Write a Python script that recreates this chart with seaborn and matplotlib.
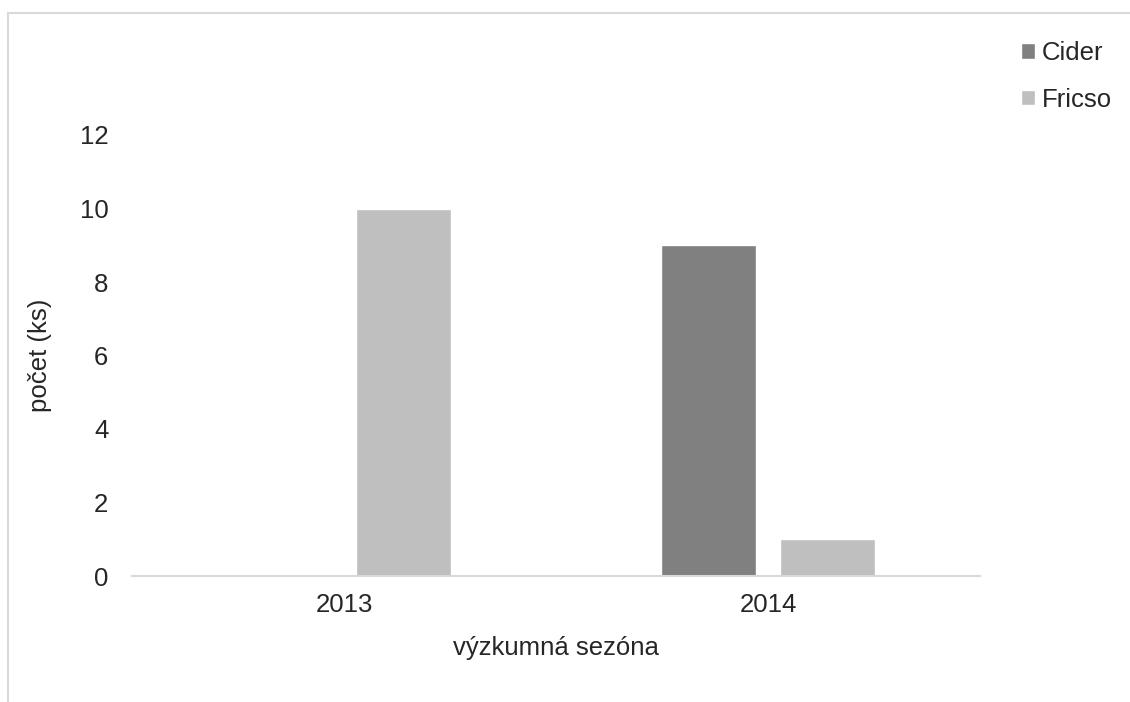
import seaborn as sns
import matplotlib.pyplot as plt
import pandas as pd
from matplotlib.patches import Rectangle

# data
years = ['2013', '2014']
cider = [0, 9]
fricso = [10, 1]
varieties = ['Cider', 'Fricso']
colors = ['#808080', '#bfbfbf']

df = pd.DataFrame({
    'year': years * 2,
    'variety': ['Cider'] * len(years) + ['Fricso'] * len(years),
    'count': cider + fricso,
})

sns.set_style('white')
plt.rcParams['font.family'] = ['Liberation Sans', 'DejaVu Sans']
fs = 18.5

fig = plt.figure(figsize=(11.3, 7.02), dpi=100)
ax = fig.add_axes([132 / 1130, 1 - 576 / 702, (980 - 132) / 1130, (576 - 135) / 702])

sns.barplot(data=df, x='year', y='count', hue='variety', hue_order=varieties,
            palette=colors, width=0.56, gap=0.2, saturation=1, ax=ax)

ax.set_ylim(0, 12)
ax.set_xlim(-0.5, 1.5)
ax.set_yticks(range(0, 13, 2))
ax.set_xlabel('výzkumná sezóna', fontsize=fs, labelpad=14)
ax.set_ylabel('počet (ks)', fontsize=fs, labelpad=20)
ax.tick_params(axis='x', length=0, pad=12, labelsize=fs)
ax.tick_params(axis='y', length=0, pad=17, labelsize=fs)
for side in ['top', 'right', 'left']:
    ax.spines[side].set_visible(False)
ax.spines['bottom'].set_color('#d9d9d9')
ax.spines['bottom'].set_linewidth(1.5)

sns.move_legend(ax, 'upper left', bbox_to_anchor=(998 / 1130, 1 - 18 / 702),
                bbox_transform=fig.transFigure, frameon=False, title=None,
                fontsize=fs, handlelength=0.55, handleheight=0.55,
                handletextpad=0.25, labelspacing=0.88)

# partial outer border of the chart area
fig.patches.append(Rectangle((8 / 1130, -0.1), 1.1, 1.1 - 13 / 702, transform=fig.transFigure,
                             fill=False, edgecolor='#d9d9d9', linewidth=1.5))

fig.savefig('out.png', dpi=100)
